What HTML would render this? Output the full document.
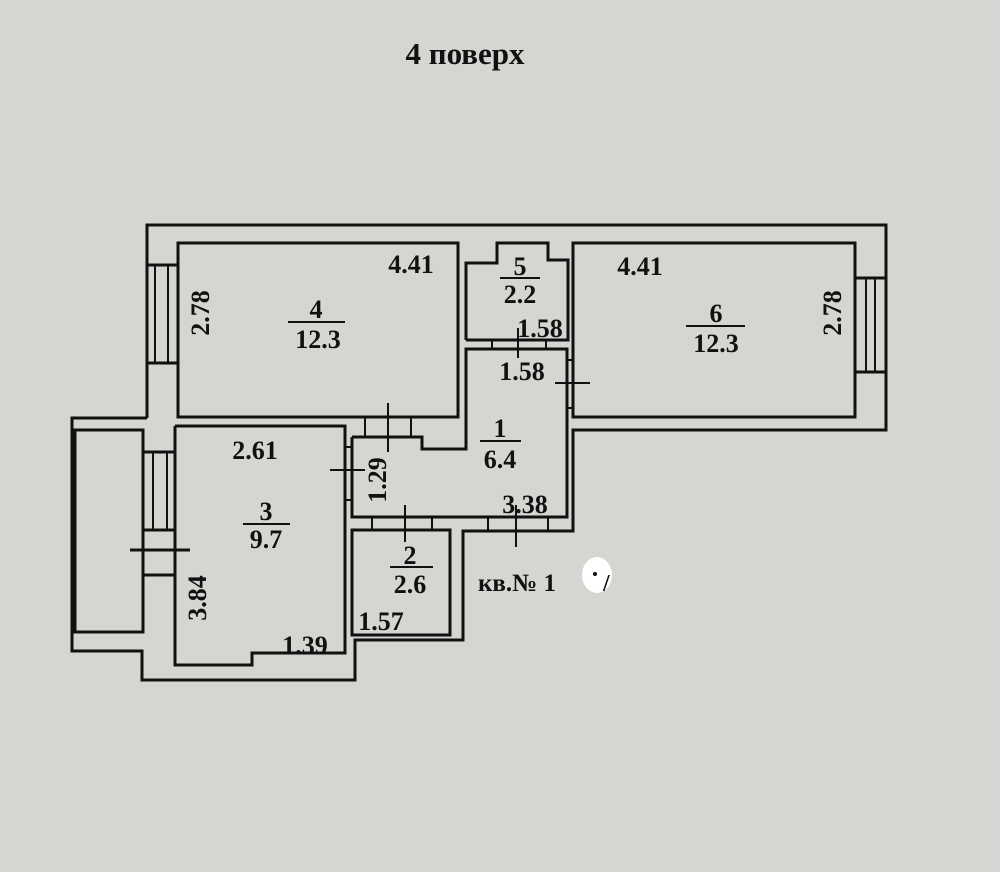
<!DOCTYPE html>
<html><head><meta charset="utf-8"><style>
html,body{margin:0;padding:0;background:#d5d6d2;}
svg{display:block}
text{font-family:"Liberation Serif",serif;font-weight:bold;fill:#111;}
</style></head><body>
<svg width="1000" height="872" viewBox="0 0 1000 872" xmlns="http://www.w3.org/2000/svg">
<rect width="1000" height="872" fill="#d5d6d2"/>
<g fill="none" stroke="#111" stroke-width="3">
<polyline points="147,418 147,225 886,225 886,430 573,430 573,531 463,531 463,640 355,640 355,680 142,680 142,651 72,651 72,418 147,418"/>
<rect x="75" y="430" width="68" height="202"/>
<rect x="178" y="243" width="280" height="174"/>
<rect x="573" y="243" width="282" height="174"/>
<polyline points="466,340 466,263 497,263 497,243 548,243 548,260 568,260 568,340 466,340"/>
<polyline points="352,437 422,437 422,449 466,449 466,349 567,349 567,517 352,517 352,437"/>
<polyline points="175,426 345,426 345,653 252,653 252,665 175,665 175,426"/>
<rect x="352" y="530" width="98" height="105"/>
<line x1="147" y1="265" x2="178" y2="265"/><line x1="147" y1="363" x2="178" y2="363"/>
<line x1="155" y1="265" x2="155" y2="363" stroke-width="2"/><line x1="168" y1="265" x2="168" y2="363" stroke-width="2"/>
<line x1="143" y1="452" x2="175" y2="452"/><line x1="143" y1="530" x2="175" y2="530"/>
<line x1="153" y1="452" x2="153" y2="530" stroke-width="2"/><line x1="167" y1="452" x2="167" y2="530" stroke-width="2"/>
<line x1="143" y1="575" x2="175" y2="575"/>
<line x1="130" y1="550" x2="190" y2="550"/>
<line x1="855" y1="278" x2="886" y2="278"/><line x1="855" y1="372" x2="886" y2="372"/>
<line x1="866" y1="278" x2="866" y2="372" stroke-width="2"/><line x1="875" y1="278" x2="875" y2="372" stroke-width="2"/>
<line x1="365" y1="418" x2="365" y2="437" stroke-width="2"/><line x1="411" y1="418" x2="411" y2="437" stroke-width="2"/>
<line x1="388" y1="403" x2="388" y2="452" stroke-width="2"/>
<line x1="345" y1="447" x2="352" y2="447" stroke-width="2"/><line x1="345" y1="500" x2="352" y2="500" stroke-width="2"/>
<line x1="330" y1="470" x2="365" y2="470" stroke-width="2"/>
<line x1="492" y1="340" x2="492" y2="349" stroke-width="2"/><line x1="546" y1="340" x2="546" y2="349" stroke-width="2"/>
<line x1="518" y1="328" x2="518" y2="358" stroke-width="2"/>
<line x1="567" y1="360" x2="573" y2="360" stroke-width="2"/><line x1="567" y1="408" x2="573" y2="408" stroke-width="2"/>
<line x1="555" y1="383" x2="590" y2="383" stroke-width="2"/>
<line x1="372" y1="517" x2="372" y2="530" stroke-width="2"/><line x1="432" y1="517" x2="432" y2="530" stroke-width="2"/>
<line x1="488" y1="517" x2="488" y2="531" stroke-width="2"/><line x1="548" y1="517" x2="548" y2="531" stroke-width="2"/>
<line x1="405" y1="505" x2="405" y2="542" stroke-width="2"/>
<line x1="516" y1="505" x2="516" y2="547" stroke-width="2"/>
<line x1="288" y1="322" x2="345" y2="322" stroke-width="2"/>
<line x1="686" y1="326" x2="745" y2="326" stroke-width="2"/>
<line x1="500" y1="278" x2="540" y2="278" stroke-width="2"/>
<line x1="480" y1="441" x2="521" y2="441" stroke-width="2"/>
<line x1="243" y1="524" x2="290" y2="524" stroke-width="2"/>
<line x1="390" y1="567" x2="433" y2="567" stroke-width="2"/>
</g>
<g font-size="26">
<text x="465" y="64" text-anchor="middle" font-size="31">4 поверх</text>
<text x="316" y="318" text-anchor="middle">4</text>
<text x="318" y="348" text-anchor="middle">12.3</text>
<text x="411" y="273" text-anchor="middle">4.41</text>
<text transform="translate(209,313) rotate(-90)" text-anchor="middle">2.78</text>
<text x="716" y="322" text-anchor="middle">6</text>
<text x="716" y="352" text-anchor="middle">12.3</text>
<text x="640" y="275" text-anchor="middle">4.41</text>
<text transform="translate(841,313) rotate(-90)" text-anchor="middle">2.78</text>
<text x="520" y="275" text-anchor="middle">5</text>
<text x="520" y="303" text-anchor="middle">2.2</text>
<text x="540" y="337" text-anchor="middle">1.58</text>
<text x="522" y="380" text-anchor="middle">1.58</text>
<text x="500" y="437" text-anchor="middle">1</text>
<text x="500" y="468" text-anchor="middle">6.4</text>
<text x="525" y="513" text-anchor="middle">3.38</text>
<text transform="translate(386,480) rotate(-90)" text-anchor="middle">1.29</text>
<text x="266" y="520" text-anchor="middle">3</text>
<text x="266" y="548" text-anchor="middle">9.7</text>
<text x="255" y="459" text-anchor="middle">2.61</text>
<text transform="translate(206,598) rotate(-90)" text-anchor="middle">3.84</text>
<text x="305" y="654" text-anchor="middle">1.39</text>
<text x="410" y="564" text-anchor="middle">2</text>
<text x="410" y="593" text-anchor="middle">2.6</text>
<text x="381" y="630" text-anchor="middle">1.57</text>
<text x="478" y="591" font-size="25">кв.№ 1</text>
</g>
<ellipse cx="597" cy="575" rx="15" ry="18" fill="#fff"/>
<circle cx="595" cy="574" r="2" fill="#111"/>
<text x="603" y="591" font-size="24">/</text>
</svg>
</body></html>
